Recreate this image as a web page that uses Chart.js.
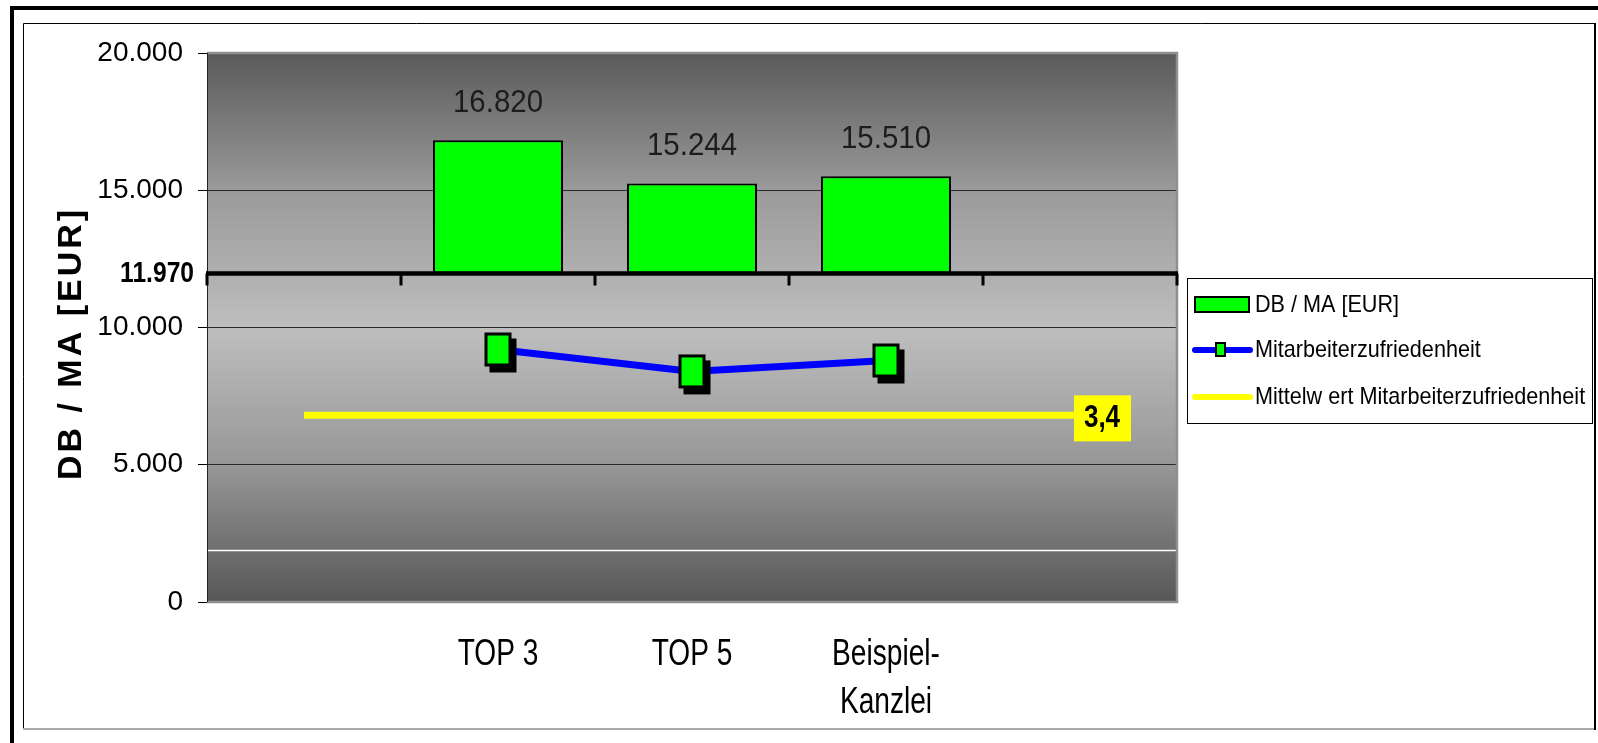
<!DOCTYPE html>
<html lang="de">
<head>
<meta charset="utf-8">
<title>DB / MA</title>
<script src="https://cdn.jsdelivr.net/npm/chart.js@4/dist/chart.umd.min.js"></script>
<style>
  html, body { margin: 0; padding: 0; background: #fff; }
  #wrap { width: 1598px; height: 743px; position: relative; }
</style>
</head>
<body>
<div id="wrap"><canvas id="chart"></canvas></div>
<script>
const CATEGORIES = ['', 'TOP 3', 'TOP 5', ['Beispiel-', 'Kanzlei'], ''];
const DB_MA = [null, 16820, 15244, 15510, null];
const DB_BASE = 11970;
const ZUFRIEDENHEIT = [null, 4.6, 4.2, 4.4, null];
const ZUFRIEDENHEIT_MITTEL = [3.4, 3.4, 3.4, 3.4, 3.4];
const Y_MIN = 0;
const Y_MAX = 20000;
const Y_STEP = 5000;
const Y2_MAX = 10;
const HELPER_LINE = 1900;
const SERIES_NAMES = ['DB / MA [EUR]', 'Mitarbeiterzufriedenheit', 'Mittelw ert Mitarbeiterzufriedenheit'];
const AXIS_TITLE = 'DB / MA [EUR]';

const GREEN = '#00ff00';
const BLUE = '#0000ff';
const YELLOW = '#ffff00';
const SANS = "'Liberation Sans', Arial, sans-serif";

// 20000 -> "20.000", 3.4 -> "3,4"
const fmt = (v) => {
  const [i, d] = String(v).split('.');
  const int = i.replace(/\B(?=(\d{3})+(?!\d))/g, '.');
  return d ? int + ',' + d : int;
};

// text squeezed horizontally like the narrow office fonts
function drawText(ctx, text, x, y, font, sx, align) {
  ctx.save();
  ctx.font = font;
  ctx.textBaseline = 'middle';
  ctx.textAlign = align || 'left';
  ctx.translate(x, y);
  ctx.scale(sx, 1);
  ctx.fillText(text, 0, 0);
  ctx.restore();
}

// green marker with a hard black shadow, canvas padded so the body sits centred
function makeMarker(w, h) {
  const pad = 7;
  const c = document.createElement('canvas');
  c.width = w + pad * 2;
  c.height = h + pad * 2;
  const g = c.getContext('2d');
  g.fillStyle = '#000';
  g.fillRect(pad + 5, pad + 6, w, h);
  g.fillRect(pad, pad, w, h);
  g.fillStyle = GREEN;
  g.fillRect(pad + 3, pad + 3, w - 6, h - 6);
  return c;
}

const background = {
  id: 'background',
  beforeDraw(chart) {
    const { ctx, chartArea: a } = chart;
    ctx.save();
    ctx.fillStyle = '#fff';
    ctx.fillRect(0, 0, chart.width, chart.height);

    // outer frame (runs off the right/bottom edge)
    ctx.strokeStyle = '#000';
    ctx.lineWidth = 4;
    ctx.strokeRect(12, 8, chart.width + 20, chart.height + 20);

    // inner frame
    ctx.lineWidth = 1;
    ctx.strokeStyle = '#000';
    ctx.beginPath();
    ctx.moveTo(23.5, 729);
    ctx.lineTo(23.5, 23.5);
    ctx.lineTo(1594.5, 23.5);
    ctx.stroke();
    ctx.lineWidth = 2;
    ctx.beginPath();
    ctx.moveTo(1595, 23);
    ctx.lineTo(1595, 730);
    ctx.stroke();
    ctx.strokeStyle = '#aaa';
    ctx.beginPath();
    ctx.moveTo(23, 729);
    ctx.lineTo(1594, 729);
    ctx.stroke();

    // plot area gradient: dark - light - dark
    const grad = ctx.createLinearGradient(0, a.top, 0, a.bottom);
    grad.addColorStop(0, '#5a5a5a');
    grad.addColorStop(0.25, '#9a9a9a');
    grad.addColorStop(0.5, '#bebebe');
    grad.addColorStop(0.75, '#979797');
    grad.addColorStop(1, '#575757');
    ctx.fillStyle = grad;
    ctx.fillRect(a.left, a.top, a.right - a.left, a.bottom - a.top);
    ctx.restore();
  }
};

const plotDecor = {
  id: 'plotDecor',
  beforeDatasetsDraw(chart) {
    const { ctx, chartArea: a, scales: { x, y } } = chart;
    ctx.save();
    const yh = Math.round(y.getPixelForValue(HELPER_LINE)) + 0.5;
    ctx.strokeStyle = '#fff';
    ctx.lineWidth = 1.5;
    ctx.beginPath();
    ctx.moveTo(a.left + 1, yh);
    ctx.lineTo(a.right - 1, yh);
    ctx.stroke();

    ctx.strokeStyle = '#8f8f8f';
    ctx.lineWidth = 2.5;
    ctx.beginPath();
    ctx.moveTo(a.left, a.top);
    ctx.lineTo(a.right, a.top);
    ctx.lineTo(a.right, a.bottom);
    ctx.lineTo(a.left, a.bottom);
    ctx.stroke();
    ctx.strokeStyle = '#222';
    ctx.lineWidth = 1;
    ctx.beginPath();
    ctx.moveTo(a.left + 0.5, a.top);
    ctx.lineTo(a.left + 0.5, a.bottom);
    ctx.stroke();

    // category labels, condensed, one line per entry
    ctx.fillStyle = '#000';
    CATEGORIES.forEach((lab, i) => {
      const lines = Array.isArray(lab) ? lab : [lab];
      lines.forEach((t, j) => {
        drawText(ctx, t, x.getPixelForValue(i), a.bottom + 53 + j * 48, '37px ' + SANS, 0.76, 'center');
      });
    });

    // y title with spaced letters
    ctx.translate(72, (a.top + a.bottom) / 2 + 16);
    ctx.rotate(-Math.PI / 2);
    ctx.font = 'bold 34px ' + SANS;
    ctx.letterSpacing = '3px';
    ctx.textAlign = 'center';
    ctx.textBaseline = 'middle';
    ctx.fillStyle = '#000';
    ctx.fillText(AXIS_TITLE, 0, 0);
    ctx.restore();
  },
  afterDatasetsDraw(chart) {
    const { ctx, chartArea: a, scales: { x, y } } = chart;
    ctx.save();

    // category axis crossing at DB_BASE
    const yb = y.getPixelForValue(DB_BASE);
    const step = x.getPixelForValue(1) - x.getPixelForValue(0);
    ctx.strokeStyle = '#000';
    ctx.lineWidth = 4.5;
    ctx.beginPath();
    ctx.moveTo(a.left - 1, yb);
    ctx.lineTo(a.right + 1, yb);
    ctx.stroke();
    ctx.lineWidth = 3;
    ctx.beginPath();
    for (let i = 0; i <= CATEGORIES.length; i++) {
      const xt = x.getPixelForValue(i) - step / 2;
      ctx.moveTo(xt, yb);
      ctx.lineTo(xt, yb + 12);
    }
    ctx.stroke();
    ctx.fillStyle = '#000';
    drawText(ctx, fmt(DB_BASE), a.left - 13, yb, 'bold 30px ' + SANS, 0.82, 'right');

    // value labels above the bars
    const bars = chart.getDatasetMeta(0).data;
    ctx.fillStyle = '#1c1c1c';
    DB_MA.forEach((v, i) => {
      if (v == null) return;
      drawText(ctx, fmt(v), bars[i].x, bars[i].y - 37, '32px ' + SANS, 0.92, 'center');
    });

    // value tag at the end of the mean line
    const mean = chart.getDatasetMeta(2).data;
    const last = mean[mean.length - 1];
    const mv = ZUFRIEDENHEIT_MITTEL[ZUFRIEDENHEIT_MITTEL.length - 1];
    ctx.fillStyle = YELLOW;
    ctx.fillRect(last.x - 6, last.y - 20, 57, 46);
    ctx.fillStyle = '#000';
    drawText(ctx, fmt(mv), last.x + 22, last.y + 3, 'bold 31px ' + SANS, 0.84, 'center');
    ctx.restore();
  },
  afterDraw(chart) {
    const { ctx } = chart;
    ctx.save();
    // legend box
    ctx.fillStyle = '#fff';
    ctx.fillRect(1187.5, 278.5, 405, 145);
    ctx.strokeStyle = '#000';
    ctx.lineWidth = 1;
    ctx.strokeRect(1187.5, 278.5, 405, 145);

    const tx = 1255;
    const rows = [305, 350, 397];
    ctx.fillStyle = GREEN;
    ctx.fillRect(1195, 297, 54, 15);
    ctx.lineWidth = 2;
    ctx.strokeRect(1195, 297, 54, 15);

    ctx.lineCap = 'round';
    ctx.lineWidth = 6;
    ctx.strokeStyle = BLUE;
    ctx.beginPath();
    ctx.moveTo(1195, rows[1]);
    ctx.lineTo(1250, rows[1]);
    ctx.stroke();
    ctx.fillStyle = '#000';
    ctx.fillRect(1215, 342, 11, 15);
    ctx.fillStyle = GREEN;
    ctx.fillRect(1217, 344, 7, 11);

    ctx.strokeStyle = YELLOW;
    ctx.beginPath();
    ctx.moveTo(1195, rows[2]);
    ctx.lineTo(1250, rows[2]);
    ctx.stroke();

    ctx.fillStyle = '#000';
    SERIES_NAMES.forEach((name, i) => {
      drawText(ctx, name, tx, rows[i], '24px ' + SANS, 0.9, 'left');
    });
    ctx.restore();
  }
};

new Chart(document.getElementById('chart'), {
  type: 'bar',
  data: {
    labels: CATEGORIES,
    datasets: [
      {
        label: SERIES_NAMES[0],
        data: DB_MA.map((v) => (v == null ? null : [DB_BASE, v])),
        backgroundColor: GREEN,
        borderColor: '#000',
        borderWidth: 2,
        borderSkipped: false,
        barPercentage: 0.67,
        categoryPercentage: 1,
        yAxisID: 'y',
        order: 3
      },
      {
        type: 'line',
        label: SERIES_NAMES[1],
        data: ZUFRIEDENHEIT,
        borderColor: BLUE,
        borderWidth: 7,
        pointStyle: makeMarker(27, 34),
        pointRadius: 14,
        yAxisID: 'y2',
        order: 1
      },
      {
        type: 'line',
        label: SERIES_NAMES[2],
        data: ZUFRIEDENHEIT_MITTEL,
        borderColor: YELLOW,
        borderWidth: 7,
        pointRadius: 0,
        yAxisID: 'y2',
        order: 2
      }
    ]
  },
  options: {
    responsive: true,
    maintainAspectRatio: false,
    animation: false,
    layout: { padding: { left: 0, right: 421, top: 53, bottom: 0 } },
    plugins: {
      legend: { display: false },
      tooltip: { enabled: false }
    },
    scales: {
      x: {
        offset: true,
        grid: { display: false, drawTicks: false },
        border: { display: false },
        ticks: { display: false },
        afterFit: (axis) => { axis.height = 141; }
      },
      y: {
        min: Y_MIN,
        max: Y_MAX,
        grid: { color: '#2a2a2a', tickColor: '#000', tickLength: 9, lineWidth: 1 },
        border: { display: false },
        ticks: {
          stepSize: Y_STEP,
          color: '#000',
          font: { family: SANS, size: 28 },
          padding: 15,
          callback: (v) => fmt(v)
        },
        afterFit: (axis) => { axis.width = 207; }
      },
      y2: {
        min: 0,
        max: Y2_MAX,
        display: false
      }
    }
  },
  plugins: [background, plotDecor]
});
</script>
</body>
</html>
